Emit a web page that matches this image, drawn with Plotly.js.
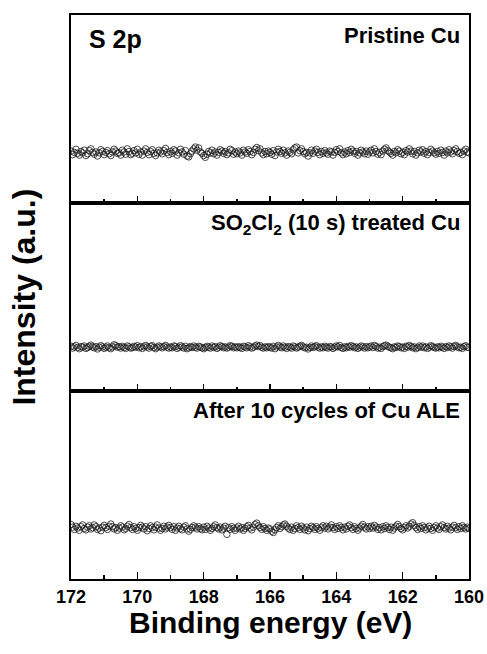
<!DOCTYPE html>
<html>
<head>
<meta charset="utf-8">
<script src="https://cdn.plot.ly/plotly-3.0.1.min.js"></script>
<style>html,body{margin:0;padding:0;background:#fff;}#chart{width:487px;height:654px;}</style>
</head>
<body>
<div id="chart"></div>
<script>
// Energy grid (eV), measured from 172 down to 160 in 0.05 eV steps
const energyStart = 172;
const energyStep = -0.05;
const pointCount = 241;

const panelLabels = ["Pristine Cu", "SO<sub>2</sub>Cl<sub>2</sub> (10 s) treated Cu", "After 10 cycles of Cu ALE"];
const regionLabel = "S 2p";
const xAxisTitle = "Binding energy (eV)";
const yAxisTitle = "Intensity (a.u.)";
const xTickValues = [172, 170, 168, 166, 164, 162, 160];

const pristineCu = [
27.4,26.6,27.1,27.8,26.9,26.5,27.3,27.0,27.6,26.4,26.8,27.5,27.9,27.1,26.7,27.2,26.3,27.0,27.7,27.3,
26.6,27.1,27.5,26.8,26.4,27.2,27.8,27.4,26.9,27.0,26.5,27.6,27.2,26.7,27.9,27.3,26.6,26.9,27.5,27.0,
27.8,26.7,27.2,26.5,27.4,27.9,27.1,26.6,27.3,27.7,26.9,26.4,27.0,27.6,27.2,26.8,27.5,28.0,27.1,26.6,
27.3,26.9,27.7,27.4,26.5,27.0,27.8,27.2,26.7,27.5,26.3,26.1,26.8,27.4,27.9,28.3,27.6,28.1,27.2,26.9,
26.4,26.0,26.7,27.3,27.0,27.6,26.8,27.2,26.5,27.1,27.7,27.4,26.9,27.3,26.6,27.0,27.8,27.5,26.7,27.2,
26.8,27.4,27.0,26.5,27.6,27.2,26.9,27.7,27.3,26.6,27.1,27.8,28.2,27.5,27.9,27.0,26.6,27.3,26.8,27.4,
27.1,26.7,27.5,26.4,27.2,27.8,27.3,26.9,27.6,27.0,26.5,27.4,27.1,26.8,27.7,28.1,28.3,27.0,27.5,27.9,
27.3,26.8,27.1,26.3,27.0,27.6,26.9,27.4,27.8,27.1,26.6,27.3,26.9,27.5,27.0,26.7,27.4,27.2,26.5,27.1,
27.7,27.3,27.9,27.0,26.6,27.2,26.8,27.5,27.1,27.8,27.4,26.9,27.3,26.5,27.0,27.6,27.2,26.8,27.4,26.7,
27.2,27.6,27.0,27.9,27.3,26.7,27.1,26.6,27.4,27.8,28.1,27.5,27.2,26.9,26.5,27.3,27.0,27.7,27.4,26.8,
27.1,26.6,27.5,27.2,27.9,27.4,26.8,27.3,26.5,27.0,27.6,27.2,27.7,26.9,27.3,26.6,27.1,27.8,27.4,27.0,
26.7,27.3,26.9,27.6,27.1,26.5,27.4,27.0,27.7,27.2,26.8,27.5,27.9,27.3,26.9,27.1,26.6,27.4,27.8,27.2,
27.0];

const treatedCu = [
23.8,23.2,23.6,24.1,23.4,23.0,23.7,23.5,23.9,23.1,23.4,23.8,24.2,23.6,23.3,23.7,22.9,23.5,24.0,23.6,
23.1,23.5,23.9,23.3,23.0,23.6,24.3,24.0,23.5,23.7,23.2,23.8,23.4,23.1,23.9,23.6,23.2,23.4,23.8,23.5,
24.0,23.3,23.7,23.1,23.6,24.1,23.6,23.2,23.8,24.0,23.4,23.0,23.5,23.9,23.6,23.3,23.7,24.1,23.5,23.2,
23.6,23.3,23.9,23.7,23.1,23.5,24.0,23.6,23.2,23.8,23.0,23.3,23.7,23.4,23.9,23.5,23.2,23.8,23.6,23.3,
23.0,23.4,23.8,23.5,23.2,23.9,23.4,23.7,23.1,23.5,24.0,23.7,23.3,23.6,23.2,23.5,24.0,23.8,23.3,23.6,
23.3,23.7,23.4,23.1,23.8,23.6,23.3,24.0,23.6,23.2,23.5,23.9,24.2,23.7,24.0,23.5,23.2,23.6,23.3,23.7,
23.5,23.2,23.8,23.0,23.6,24.1,23.6,23.3,23.9,23.5,23.1,23.7,23.5,23.2,23.9,23.6,23.2,23.5,23.8,24.1,
23.6,23.3,23.5,22.9,23.4,23.9,23.4,23.7,24.0,23.5,23.2,23.6,23.3,23.8,23.5,23.2,23.7,23.6,23.1,23.5,
23.9,23.6,24.1,23.4,23.1,23.6,23.3,23.8,23.5,24.0,23.7,23.3,23.6,23.1,23.5,23.9,23.6,23.2,23.7,23.3,
23.6,23.9,23.4,24.1,23.7,23.2,23.5,23.1,23.7,24.0,24.2,23.8,23.5,23.3,23.0,23.6,23.4,23.9,23.7,23.3,
23.5,23.1,23.8,23.5,24.1,23.7,23.3,23.6,23.0,23.4,23.9,23.5,23.9,23.3,23.6,23.1,23.5,24.0,23.7,23.4,
23.2,23.6,23.3,23.8,23.5,23.1,23.7,23.4,23.9,23.6,23.2,23.8,24.1,23.6,23.3,23.5,23.1,23.7,24.0,23.5,
23.4];

const afterALE = [
27.9,27.3,26.8,27.5,27.1,26.6,27.4,27.8,27.0,26.7,27.3,27.6,26.9,27.2,27.8,27.4,26.8,27.1,26.5,27.3,
27.7,27.2,26.8,27.5,28.0,27.4,26.9,27.2,26.6,27.1,27.6,27.3,26.7,27.0,27.5,27.9,27.2,26.8,27.4,27.0,
26.6,27.2,27.7,27.3,26.9,27.4,26.5,27.0,27.6,27.2,26.7,27.3,27.8,27.1,26.6,27.0,27.5,26.9,27.3,27.7,
27.2,26.8,27.4,26.6,27.1,27.5,27.0,26.7,27.3,27.6,26.9,26.4,26.8,27.2,27.6,27.3,26.9,27.4,27.0,26.7,
27.3,26.8,27.5,27.1,26.6,27.0,27.4,27.8,27.2,26.9,27.3,26.7,27.1,27.5,25.7,27.2,26.8,27.4,27.0,26.6,
27.1,27.5,26.9,27.2,26.6,27.0,27.4,27.7,27.1,26.7,27.3,27.9,28.2,27.6,27.2,26.8,27.4,27.0,26.6,27.1,
26.9,26.4,26.1,26.7,27.2,27.6,27.0,27.4,27.8,28.0,27.5,27.1,26.8,27.3,26.6,27.0,27.6,27.2,26.8,27.5,
27.1,26.7,27.3,26.5,27.0,27.5,27.2,26.8,27.4,27.0,26.6,27.2,27.6,27.1,27.5,26.9,27.3,27.8,27.2,26.8,
27.4,27.0,27.6,27.2,26.7,27.3,26.9,27.5,27.8,27.2,26.8,27.4,27.0,26.6,27.1,27.5,27.9,27.3,26.9,27.4,
27.0,27.5,27.1,27.7,27.3,26.8,27.2,26.7,27.4,27.0,27.6,27.2,26.8,27.3,26.6,27.1,27.5,27.9,27.4,27.0,
26.7,27.2,27.6,27.1,27.5,28.0,28.3,27.7,27.2,26.8,27.4,27.0,27.6,27.2,26.7,27.1,27.5,27.0,26.6,27.2,
27.6,27.1,26.8,27.4,27.8,27.2,26.9,27.5,27.1,26.7,27.3,27.7,27.2,26.8,27.4,27.0,27.6,27.2,26.9,27.3,
27.0];

const energy = [];
for (let i = 0; i < pointCount; i++) energy.push(+(energyStart + i * energyStep).toFixed(2));

const FONT = "Liberation Sans, Arial, sans-serif";
const marker = {symbol: "circle-open", size: 6.5, color: "#1c1c1c", line: {width: 0.8, color: "#1c1c1c"}};

const series = [pristineCu, treatedCu, afterALE];
const axisIds = [["x3", "y3"], ["x2", "y2"], ["x", "y"]];
const traces = series.map((s, k) => ({
  type: "scatter", mode: "markers", x: energy, y: s,
  xaxis: axisIds[k][0], yaxis: axisIds[k][1], marker: marker,
  showlegend: false, hoverinfo: "skip"
}));

function xAxis(anchor, showLabels) {
  return {
    anchor: anchor, range: [172, 160], autorange: false,
    tickmode: "array", tickvals: xTickValues, ticktext: xTickValues.map(String),
    ticks: "inside", ticklen: 7, tickwidth: 1.5, tickcolor: "#000",
    minor: {dtick: 1, tick0: 160, ticks: "inside", ticklen: 4, tickwidth: 1.5, tickcolor: "#000"},
    showticklabels: showLabels, showgrid: false, zeroline: false,
    showline: true, linewidth: 2, linecolor: "#000", mirror: true,
    tickfont: {family: FONT, size: 18, color: "#000", weight: "bold"}
  };
}
function yAxis(domain, range, title) {
  const a = {
    domain: domain, range: range, autorange: false,
    showticklabels: false, ticks: "", showgrid: false, zeroline: false,
    showline: true, linewidth: 2, linecolor: "#000", mirror: true
  };
  if (title) a.title = {text: title, font: {family: FONT, size: 32, color: "#000", weight: "bold"}, standoff: 24};
  return a;
}

const labelFont = {family: FONT, size: 22, color: "#000", weight: "bold"};
const annotations = [
  {xref: "paper", yref: "paper", x: 0.04, y: 0.985, xanchor: "left", yanchor: "top", text: "<b>" + regionLabel + "</b>", showarrow: false, font: {family: FONT, size: 25, color: "#000"}},
  {xref: "paper", yref: "paper", x: 0.982, y: 0.99, xanchor: "right", yanchor: "top", text: "<b>" + panelLabels[0] + "</b>", showarrow: false, font: labelFont},
  {xref: "paper", yref: "paper", x: 0.982, y: 0.657, xanchor: "right", yanchor: "top", text: "<b>" + panelLabels[1] + "</b>", showarrow: false, font: labelFont},
  {xref: "paper", yref: "paper", x: 0.982, y: 0.325, xanchor: "right", yanchor: "top", text: "<b>" + panelLabels[2] + "</b>", showarrow: false, font: labelFont},
  {xref: "paper", yref: "paper", x: 0.5, y: -0.078, xanchor: "center", yanchor: "middle", text: "<b>" + xAxisTitle + "</b>", showarrow: false, font: {family: FONT, size: 30, color: "#000"}}
];

const layout = {
  width: 487, height: 654,
  margin: {l: 71, r: 18, t: 15, b: 75},
  paper_bgcolor: "#fff", plot_bgcolor: "#fff",
  xaxis: xAxis("y", true),
  xaxis2: xAxis("y2", false),
  xaxis3: xAxis("y3", false),
  yaxis: yAxis([0, 1/3 - 0.0005], [15.7, 57.7]),
  yaxis2: yAxis([1/3, 2/3 - 0.0005], [8.8, 71.8], yAxisTitle),
  yaxis3: yAxis([2/3, 1], [15.8, 57.8]),
  annotations: annotations
};

Plotly.newPlot("chart", traces, layout, {displayModeBar: false, staticPlot: true});
</script>
</body>
</html>
